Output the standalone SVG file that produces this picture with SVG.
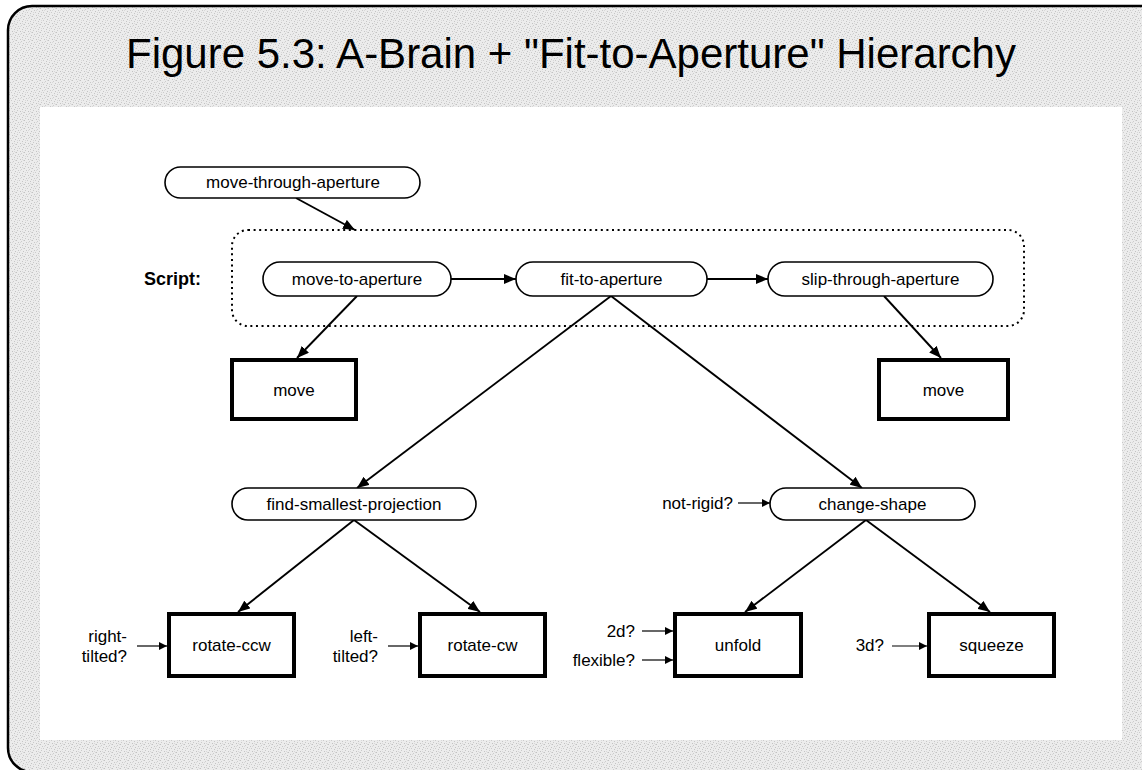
<svg xmlns="http://www.w3.org/2000/svg" width="1142" height="770" viewBox="0 0 1142 770">
  <defs>
    <pattern id="grain" width="8" height="8" patternUnits="userSpaceOnUse">
      <rect width="8" height="8" fill="#ececec"/>
      <rect x="0" y="0" width="1" height="1" fill="#c2c2c2"/>
      <rect x="5" y="1" width="1" height="1" fill="#cdcdcd"/>
      <rect x="2" y="2" width="1" height="1" fill="#c8c8c8"/>
      <rect x="7" y="3" width="1" height="1" fill="#c4c4c4"/>
      <rect x="3" y="4" width="1" height="1" fill="#cbcbcb"/>
      <rect x="6" y="5" width="1" height="1" fill="#c6c6c6"/>
      <rect x="1" y="6" width="1" height="1" fill="#c9c9c9"/>
      <rect x="4" y="7" width="1" height="1" fill="#c3c3c3"/>
      <rect x="4" y="2" width="1" height="1" fill="#d8d8d8"/>
      <rect x="1" y="4" width="1" height="1" fill="#d8d8d8"/>
      <rect x="6" y="7" width="1" height="1" fill="#d8d8d8"/>
      <rect x="7" y="0" width="1" height="1" fill="#d8d8d8"/>
    </pattern>
    <marker id="arrow" viewBox="0 0 12 10" refX="12" refY="5" markerWidth="12" markerHeight="10" markerUnits="userSpaceOnUse" orient="auto">
      <path d="M0,0 L12,5 L0,10 z" fill="#000"/>
    </marker>
    <marker id="arrowSmall" viewBox="0 0 10 10" refX="10" refY="5" markerWidth="9" markerHeight="8" markerUnits="userSpaceOnUse" orient="auto">
      <path d="M0,0 L10,5 L0,10 z" fill="#000"/>
    </marker>
  </defs>
  <style>
    text { font-family: "Liberation Sans", Arial, Helvetica, sans-serif; fill: #000; }
    .title { font-size: 42px; text-anchor: middle; }
    .lbl { font-size: 17px; text-anchor: middle; }
    .side { font-size: 17px; text-anchor: end; }
    .bold { font-weight: bold; font-size: 18px; }
    .pill { fill: #fff; stroke: #000; stroke-width: 1.6; }
    .box { fill: #fff; stroke: #000; stroke-width: 4; }
    .edge { fill: none; stroke: #000; stroke-width: 1.9; marker-end: url(#arrow); }
    .cond { fill: none; stroke: #000; stroke-width: 1.2; marker-end: url(#arrowSmall); }
    .script { fill: none; stroke: #000; stroke-width: 2; stroke-dasharray: 2 3.6; }
  </style>

  <!-- frame -->
  <rect x="0" y="0" width="1142" height="770" fill="#fff"/>
  <rect x="8" y="6" width="1160" height="766" rx="24" fill="url(#grain)" stroke="#000" stroke-width="2.5"/>
  <rect x="40" y="107" width="1082" height="633" fill="#fff"/>
  <text class="title" x="571" y="68">Figure 5.3: A-Brain + "Fit-to-Aperture" Hierarchy</text>

  <!-- script container -->
  <g id="script">
    <rect class="script" x="232" y="230" width="792" height="96" rx="16"/>
    <text class="lbl bold" x="172.5" y="285">Script:</text>
  </g>

  <!-- connectors -->
  <g id="connectors">
    <line class="edge" x1="296" y1="198" x2="355" y2="230"/>
    <line class="edge" x1="451" y1="279" x2="516" y2="279"/>
    <line class="edge" x1="707" y1="279" x2="768" y2="279"/>
    <line class="edge" x1="357" y1="296" x2="297" y2="358"/>
    <line class="edge" x1="884" y1="296" x2="941" y2="358"/>
    <line class="edge" x1="611" y1="296" x2="357" y2="488"/>
    <line class="edge" x1="611" y1="296" x2="862" y2="488"/>
    <line class="edge" x1="354" y1="520" x2="238" y2="612"/>
    <line class="edge" x1="354" y1="520" x2="480" y2="612"/>
    <line class="edge" x1="866" y1="520" x2="745" y2="612"/>
    <line class="edge" x1="866" y1="520" x2="990" y2="612"/>
    <line class="cond" x1="738" y1="503" x2="770" y2="503"/>
    <line class="cond" x1="137" y1="646" x2="167" y2="646"/>
    <line class="cond" x1="388" y1="646" x2="418" y2="646"/>
    <line class="cond" x1="642" y1="631" x2="673" y2="631"/>
    <line class="cond" x1="642" y1="660" x2="673" y2="660"/>
    <line class="cond" x1="892" y1="646" x2="927" y2="646"/>
  </g>

  <!-- behaviour nodes -->
  <g id="move-through-aperture">
    <rect class="pill" x="165" y="167" width="255" height="31" rx="15.5"/>
    <text class="lbl" x="293" y="188">move-through-aperture</text>
  </g>
  <g id="move-to-aperture">
    <rect class="pill" x="263" y="262" width="188" height="34" rx="17"/>
    <text class="lbl" x="357" y="285">move-to-aperture</text>
  </g>
  <g id="fit-to-aperture">
    <rect class="pill" x="516" y="262" width="191" height="34" rx="17"/>
    <text class="lbl" x="611.5" y="285">fit-to-aperture</text>
  </g>
  <g id="slip-through-aperture">
    <rect class="pill" x="768" y="262" width="225" height="34" rx="17"/>
    <text class="lbl" x="880.5" y="285">slip-through-aperture</text>
  </g>
  <g id="find-smallest-projection">
    <rect class="pill" x="232" y="488" width="244" height="32" rx="16"/>
    <text class="lbl" x="354" y="510">find-smallest-projection</text>
  </g>
  <g id="change-shape">
    <rect class="pill" x="770" y="488" width="205" height="32" rx="16"/>
    <text class="lbl" x="872.5" y="510">change-shape</text>
    <text class="side" x="733" y="509">not-rigid?</text>
  </g>

  <!-- primitive action nodes -->
  <g id="move-left">
    <rect class="box" x="232" y="360" width="124" height="59"/>
    <text class="lbl" x="294" y="396">move</text>
  </g>
  <g id="move-right">
    <rect class="box" x="879" y="360" width="129" height="59"/>
    <text class="lbl" x="943.5" y="396">move</text>
  </g>
  <g id="rotate-ccw">
    <rect class="box" x="169" y="614" width="125" height="62"/>
    <text class="lbl" x="231.5" y="651">rotate-ccw</text>
    <text class="side" x="127" y="642">right-</text>
    <text class="side" x="127" y="662">tilted?</text>
  </g>
  <g id="rotate-cw">
    <rect class="box" x="420" y="614" width="125" height="62"/>
    <text class="lbl" x="482.5" y="651">rotate-cw</text>
    <text class="side" x="378" y="642">left-</text>
    <text class="side" x="378" y="662">tilted?</text>
  </g>
  <g id="unfold">
    <rect class="box" x="675" y="614" width="126" height="62"/>
    <text class="lbl" x="738" y="651">unfold</text>
    <text class="side" x="635" y="637">2d?</text>
    <text class="side" x="635" y="666">flexible?</text>
  </g>
  <g id="squeeze">
    <rect class="box" x="929" y="614" width="125" height="62"/>
    <text class="lbl" x="991.5" y="651">squeeze</text>
    <text class="side" x="884" y="651">3d?</text>
  </g>
</svg>
